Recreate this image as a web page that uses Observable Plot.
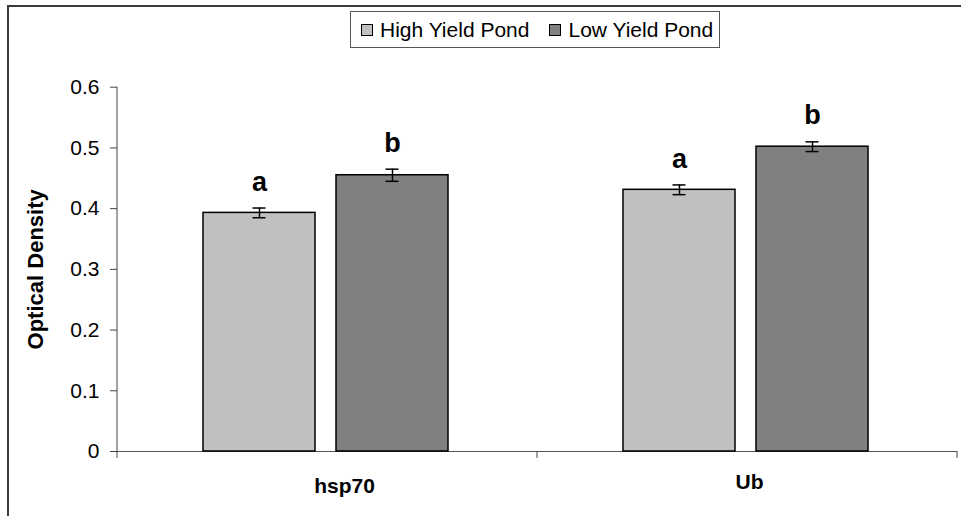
<!DOCTYPE html>
<html><head><meta charset="utf-8">
<script src="https://cdn.jsdelivr.net/npm/d3@7"></script>
<script src="https://cdn.jsdelivr.net/npm/@observablehq/plot@0.6"></script>
<style>
body{margin:0;background:#fff;font-family:"Liberation Sans",Arial,sans-serif;}
#wrap{position:relative;width:961px;height:516px;overflow:hidden;background:#fff;}
#border{position:absolute;left:7px;top:5px;width:960px;height:520px;border-top:2px solid #3a3a3a;border-left:2px solid #3a3a3a;}
#legend{position:absolute;left:350px;top:11px;width:370px;height:37px;box-sizing:border-box;border:1px solid #555;display:flex;align-items:center;padding-left:10px;font-size:21px;color:#000;white-space:nowrap;}
.sw{width:12px;height:12px;border:1.5px solid #000;box-sizing:border-box;display:inline-block;margin-right:7px;}
.item{display:flex;align-items:center;margin-right:20px;}
#chart{position:absolute;left:0;top:50px;}
</style></head>
<body>
<div id="wrap">
  <div id="border"></div>
  <div id="legend"></div>
  <div id="chart"></div>
</div>
<script>
const categories = ["hsp70", "Ub"];
const series = ["High Yield Pond", "Low Yield Pond"];
const highValues = [0.393, 0.431];
const lowValues = [0.455, 0.502];
const highErr = [0.008, 0.008];
const lowErr = [0.010, 0.008];
const highLetters = ["a", "a"];
const lowLetters = ["b", "b"];
const yTicks = [0, 0.1, 0.2, 0.3, 0.4, 0.5, 0.6];
const colors = ["#c0c0c0", "#808080"];

const data = categories.flatMap((c, i) => [
  {category: c, series: series[0], value: highValues[i], err: highErr[i], letter: highLetters[i]},
  {category: c, series: series[1], value: lowValues[i], err: lowErr[i], letter: lowLetters[i]}
]);

// legend
const leg = document.getElementById("legend");
series.forEach((s, i) => {
  const it = document.createElement("span");
  it.className = "item";
  const sw = document.createElement("span");
  sw.className = "sw";
  sw.style.background = colors[i];
  it.appendChild(sw);
  it.appendChild(document.createTextNode(s));
  leg.appendChild(it);
});

const font = "Liberation Sans, Arial, sans-serif";
const plot = Plot.plot({
  width: 961, height: 466,
  marginTop: 36.7, marginBottom: 65, marginLeft: 117, marginRight: 4,
  style: {fontFamily: font, fontSize: "21px", color: "#000", background: "transparent", overflow: "visible"},
  fx: {domain: categories, padding: 0, label: null},
  x: {domain: series, paddingInner: 0.157, paddingOuter: 0.646, align: 0.49, axis: null},
  y: {domain: [0, 0.6], label: null},
  color: {domain: series, range: colors},
  marks: [
    Plot.axisY({ticks: yTicks, tickSize: 7, tickPadding: 11, stroke: "#444", fill: "#000",
      tickFormat: d => d === 0 ? "0" : d.toFixed(1), label: null, fontSize: 21}),
    Plot.axisFx({anchor: "bottom", ticks: ["hsp70"], tickSize: 0, tickPadding: 27, dx: 17, fontWeight: "bold", fontSize: 21, label: null, fill: "#000"}),
    Plot.axisFx({anchor: "bottom", ticks: ["Ub"], tickSize: 0, tickPadding: 23, dx: 2, fontWeight: "bold", fontSize: 21, label: null, fill: "#000"}),
    Plot.text(["Optical Density"], {fx: ["hsp70"], frameAnchor: "left", textAnchor: "middle", lineAnchor: "middle",
      rotate: -90, dx: -82, fontWeight: "bold", fontSize: 22, fill: "#000", text: d => d}),
    Plot.ruleY([0], {stroke: "#555", strokeWidth: 1}),
    Plot.barY(data, {fx: "category", x: "series", y: "value", fill: "series", stroke: "#000", strokeWidth: 1.5}),
    Plot.ruleX(data, {fx: "category", x: "series", y1: d => d.value - d.err, y2: d => d.value + d.err, stroke: "#000", strokeWidth: 1.5}),
    Plot.tickY(data, {fx: "category", x: "series", y: d => d.value + d.err, insetLeft: 49.5, insetRight: 49.5, stroke: "#000", strokeWidth: 1.5}),
    Plot.tickY(data, {fx: "category", x: "series", y: d => d.value - d.err, insetLeft: 49.5, insetRight: 49.5, stroke: "#000", strokeWidth: 1.5}),
    Plot.text(data, {fx: "category", x: "series", y: d => d.value + d.err, text: "letter", dy: -26,
      fontSize: 27, fontWeight: "bold", fill: "#000", lineAnchor: "middle"})
  ]
});
document.getElementById("chart").appendChild(plot);

// axis line and category boundary ticks, positioned via the plot's scales
const fxS = plot.scale("fx"), yS = plot.scale("y");
const svg = d3.select(plot);
const x0 = fxS.apply(categories[0]);
svg.append("line").attr("x1", x0).attr("x2", x0)
  .attr("y1", yS.apply(0.6)).attr("y2", yS.apply(0)).attr("stroke", "#444");
const bounds = categories.map(c => fxS.apply(c)).concat([fxS.apply(categories[categories.length - 1]) + fxS.bandwidth]);
bounds.forEach(b => {
  svg.append("line").attr("x1", b).attr("x2", b)
    .attr("y1", yS.apply(0)).attr("y2", yS.apply(0) + 7).attr("stroke", "#444");
});
</script>
</body></html>
